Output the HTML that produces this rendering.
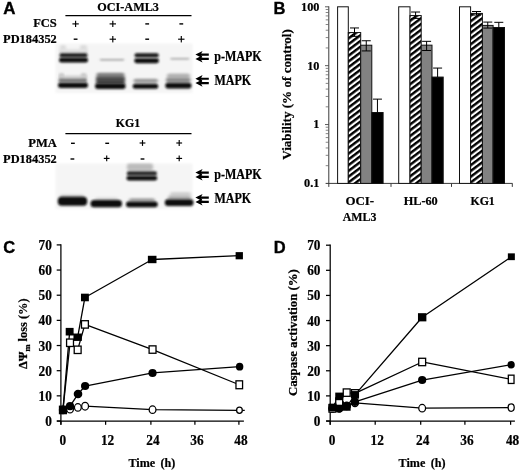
<!DOCTYPE html>
<html><head><meta charset="utf-8"><title>Figure</title>
<style>
html,body{margin:0;padding:0;background:#fff;}
body{width:520px;height:473px;overflow:hidden;font-family:"Liberation Serif",serif;}
svg{display:block;will-change:transform;filter:grayscale(1) blur(0.32px);}
</style></head><body>
<svg width="520" height="473" viewBox="0 0 520 473">
<rect x="0" y="0" width="520" height="473" fill="#fff"/>
<defs>
<filter id="b1" x="-20%" y="-100%" width="140%" height="300%"><feGaussianBlur stdDeviation="1.1 0.8"/></filter>
<filter id="b2" x="-20%" y="-100%" width="140%" height="300%"><feGaussianBlur stdDeviation="1.6 1.3"/></filter>
<filter id="b3" x="-10%" y="-10%" width="120%" height="120%"><feGaussianBlur stdDeviation="1.2"/></filter>
<pattern id="hatch" width="4.6" height="4.6" patternUnits="userSpaceOnUse" patternTransform="rotate(-37)">
<rect x="0" y="0" width="4.6" height="4.6" fill="#fff"/>
<rect x="0" y="0" width="4.6" height="2.45" fill="#000"/>
</pattern>
</defs>
<text transform="translate(3.3,14.3) scale(1.07,1)" font-size="15.8" text-anchor="start" font-family="Liberation Sans" font-weight="bold" stroke="#000" stroke-width="0.35">A</text>
<text transform="translate(3.2,252.9) scale(1.0,1)" font-size="16.5" text-anchor="start" font-family="Liberation Sans" font-weight="bold" stroke="#000" stroke-width="0.35">C</text>
<text transform="translate(273.6,14.2) scale(1.0,1)" font-size="16.5" text-anchor="start" font-family="Liberation Sans" font-weight="bold" stroke="#000" stroke-width="0.35">B</text>
<text transform="translate(273.7,252.6) scale(1.0,1)" font-size="16.5" text-anchor="start" font-family="Liberation Sans" font-weight="bold" stroke="#000" stroke-width="0.35">D</text>
<text transform="translate(128.1,10.8) scale(0.97,1)" font-size="12.6" text-anchor="middle" font-family="Liberation Serif" font-weight="bold" stroke="#000" stroke-width="0.22" >OCI-AML3</text>
<line x1="65.4" y1="15.6" x2="191.5" y2="15.6" stroke="#000" stroke-width="1.1" />
<text transform="translate(56.8,26.9) scale(1.0,1)" font-size="12.5" text-anchor="end" font-family="Liberation Serif" font-weight="bold" stroke="#000" stroke-width="0.22" >FCS</text>
<text transform="translate(56.8,43.1) scale(1.0,1)" font-size="12.4" text-anchor="end" font-family="Liberation Serif" font-weight="bold" stroke="#000" stroke-width="0.22" >PD184352</text>
<line x1="72.39999999999999" y1="23.9" x2="78.8" y2="23.9" stroke="#000" stroke-width="1.15" />
<line x1="75.6" y1="20.7" x2="75.6" y2="27.099999999999998" stroke="#000" stroke-width="1.15" />
<line x1="109.6" y1="23.9" x2="116.0" y2="23.9" stroke="#000" stroke-width="1.15" />
<line x1="112.8" y1="20.7" x2="112.8" y2="27.099999999999998" stroke="#000" stroke-width="1.15" />
<line x1="145.29999999999998" y1="23.9" x2="149.1" y2="23.9" stroke="#000" stroke-width="1.4" />
<line x1="179.4" y1="23.9" x2="183.20000000000002" y2="23.9" stroke="#000" stroke-width="1.4" />
<line x1="73.69999999999999" y1="39.2" x2="77.5" y2="39.2" stroke="#000" stroke-width="1.4" />
<line x1="109.6" y1="39.2" x2="116.0" y2="39.2" stroke="#000" stroke-width="1.15" />
<line x1="112.8" y1="36.0" x2="112.8" y2="42.400000000000006" stroke="#000" stroke-width="1.15" />
<line x1="145.29999999999998" y1="39.2" x2="149.1" y2="39.2" stroke="#000" stroke-width="1.4" />
<line x1="178.10000000000002" y1="39.2" x2="184.5" y2="39.2" stroke="#000" stroke-width="1.15" />
<line x1="181.3" y1="36.0" x2="181.3" y2="42.400000000000006" stroke="#000" stroke-width="1.15" />
<g>
<rect x="55.5" y="43.5" width="137" height="49.5" fill="#f5f5f5" stroke="none" stroke-width="1" filter="url(#b3)"/>
<rect x="60" y="45" width="6" height="9" rx="2" fill="#dcdcdc" filter="url(#b2)"/>
<rect x="80" y="45" width="7" height="9" rx="2" fill="#dcdcdc" filter="url(#b2)"/>
<rect x="60" y="49" width="27" height="5" rx="2" fill="#e2e2e2" filter="url(#b2)"/>
<rect x="59.5" y="53.3" width="28.0" height="4.0" rx="2" fill="#1c1c1c" filter="url(#b1)"/>
<rect x="59" y="57.6" width="29" height="5.0" rx="2.5" fill="#080808" filter="url(#b1)"/>
<rect x="59" y="73" width="5" height="6" rx="2" fill="#c4c4c4" filter="url(#b2)"/>
<rect x="81" y="73" width="5.5" height="6" rx="2" fill="#c4c4c4" filter="url(#b2)"/>
<rect x="59" y="75.5" width="28" height="3.0" rx="2" fill="#d0d0d0" filter="url(#b2)"/>
<rect x="58.5" y="78.6" width="28.5" height="3.4000000000000057" rx="1.5" fill="#757575" filter="url(#b1)"/>
<rect x="58" y="82.6" width="30" height="5.400000000000006" rx="2.7" fill="#0e0e0e" filter="url(#b1)"/>
<rect x="99.5" y="59.0" width="25.0" height="1.6000000000000014" rx="2" fill="#999" filter="url(#b1)"/>
<rect x="96.5" y="72.8" width="28.0" height="6.200000000000003" rx="2" fill="#808080" filter="url(#b2)"/>
<rect x="96" y="77" width="29" height="7" rx="2" fill="#4a4a4a" filter="url(#b2)"/>
<rect x="95" y="83.3" width="30.599999999999994" height="5.700000000000003" rx="2.7" fill="#0e0e0e" filter="url(#b1)"/>
<rect x="134.5" y="53.2" width="24.30000000000001" height="4.0" rx="2" fill="#141414" filter="url(#b1)"/>
<rect x="134.2" y="58.3" width="24.80000000000001" height="4.900000000000006" rx="2.4" fill="#0a0a0a" filter="url(#b1)"/>
<rect x="133.5" y="78.8" width="24.5" height="4.0" rx="2" fill="#9a9a9a" filter="url(#b2)"/>
<rect x="132.7" y="83.8" width="25.5" height="5.0" rx="2.5" fill="#0c0c0c" filter="url(#b1)"/>
<rect x="170" y="58.0" width="19.599999999999994" height="1.6000000000000014" rx="2" fill="#a0a0a0" filter="url(#b1)"/>
<rect x="167" y="73.5" width="23" height="4.5" rx="2" fill="#b4b4b4" filter="url(#b2)"/>
<rect x="166" y="77.5" width="24.5" height="5.0" rx="2" fill="#8c8c8c" filter="url(#b2)"/>
<rect x="165.3" y="82.8" width="26.19999999999999" height="5.700000000000003" rx="2.7" fill="#0c0c0c" filter="url(#b1)"/>
</g>
<path d="M195.4,54.6 L202.6,50.9 L201.20000000000002,53.550000000000004 L208.8,53.550000000000004 L208.8,55.65 L201.20000000000002,55.65 L202.6,58.300000000000004 Z" fill="#000"/>
<path d="M195.4,58.9 L202.6,55.199999999999996 L201.20000000000002,57.85 L208.8,57.85 L208.8,59.949999999999996 L201.20000000000002,59.949999999999996 L202.6,62.6 Z" fill="#000"/>
<path d="M195.4,78.8 L202.6,75.1 L201.20000000000002,77.75 L208.8,77.75 L208.8,79.85 L201.20000000000002,79.85 L202.6,82.5 Z" fill="#000"/>
<path d="M195.4,83.1 L202.6,79.39999999999999 L201.20000000000002,82.05 L208.8,82.05 L208.8,84.14999999999999 L201.20000000000002,84.14999999999999 L202.6,86.8 Z" fill="#000"/>
<text transform="translate(214.2,60.5) scale(0.885,1)" font-size="13.6" text-anchor="start" font-family="Liberation Serif" font-weight="bold" stroke="#000" stroke-width="0.22" >p-MAPK</text>
<text transform="translate(214.4,84.7) scale(0.885,1)" font-size="13.6" text-anchor="start" font-family="Liberation Serif" font-weight="bold" stroke="#000" stroke-width="0.22" >MAPK</text>
<text transform="translate(128,126.6) scale(0.94,1)" font-size="12.6" text-anchor="middle" font-family="Liberation Serif" font-weight="bold" stroke="#000" stroke-width="0.22" >KG1</text>
<line x1="65.4" y1="133.6" x2="191.5" y2="133.6" stroke="#000" stroke-width="1.1" />
<text transform="translate(56.8,146.8) scale(1.0,1)" font-size="12.5" text-anchor="end" font-family="Liberation Serif" font-weight="bold" stroke="#000" stroke-width="0.22" >PMA</text>
<text transform="translate(56.8,163.1) scale(1.0,1)" font-size="12.4" text-anchor="end" font-family="Liberation Serif" font-weight="bold" stroke="#000" stroke-width="0.22" >PD184352</text>
<line x1="71.0" y1="143.3" x2="74.80000000000001" y2="143.3" stroke="#000" stroke-width="1.4" />
<line x1="105.3" y1="143.3" x2="109.10000000000001" y2="143.3" stroke="#000" stroke-width="1.4" />
<line x1="139.6" y1="143.0" x2="145.4" y2="143.0" stroke="#000" stroke-width="1.15" />
<line x1="142.5" y1="140.1" x2="142.5" y2="145.9" stroke="#000" stroke-width="1.15" />
<line x1="176.29999999999998" y1="143.0" x2="182.1" y2="143.0" stroke="#000" stroke-width="1.15" />
<line x1="179.2" y1="140.1" x2="179.2" y2="145.9" stroke="#000" stroke-width="1.15" />
<line x1="70.5" y1="159.0" x2="74.30000000000001" y2="159.0" stroke="#000" stroke-width="1.4" />
<line x1="103.8" y1="158.4" x2="109.60000000000001" y2="158.4" stroke="#000" stroke-width="1.15" />
<line x1="106.7" y1="155.5" x2="106.7" y2="161.3" stroke="#000" stroke-width="1.15" />
<line x1="140.6" y1="159.0" x2="144.4" y2="159.0" stroke="#000" stroke-width="1.4" />
<line x1="176.29999999999998" y1="158.4" x2="182.1" y2="158.4" stroke="#000" stroke-width="1.15" />
<line x1="179.2" y1="155.5" x2="179.2" y2="161.3" stroke="#000" stroke-width="1.15" />
<g>
<rect x="55.5" y="163.5" width="137" height="45.5" fill="#f5f5f5" stroke="none" stroke-width="1" filter="url(#b3)"/>
<rect x="60" y="194.5" width="24" height="4.0" rx="2" fill="#cfcfcf" filter="url(#b2)"/>
<rect x="57.8" y="196.8" width="29.400000000000006" height="9.0" rx="4" fill="#0c0c0c" filter="url(#b1)"/>
<rect x="95" y="197.5" width="23" height="3.5" rx="2" fill="#d4d4d4" filter="url(#b2)"/>
<rect x="90.5" y="200" width="31.5" height="7.300000000000011" rx="3.5" fill="#0c0c0c" filter="url(#b1)"/>
<rect x="127" y="163.5" width="26" height="7.0" rx="2" fill="#bcbcbc" filter="url(#b2)"/>
<rect x="126.8" y="171.2" width="30.200000000000003" height="4.400000000000006" rx="2.2" fill="#262626" filter="url(#b1)"/>
<rect x="126.5" y="175.8" width="30.69999999999999" height="4.799999999999983" rx="2.4" fill="#0c0c0c" filter="url(#b1)"/>
<rect x="129" y="198.2" width="26" height="3.0" rx="2" fill="#a0a0a0" filter="url(#b2)"/>
<rect x="126" y="201.6" width="31.69999999999999" height="5.700000000000017" rx="2.8" fill="#0c0c0c" filter="url(#b1)"/>
<rect x="170" y="192" width="21" height="4" rx="2" fill="#d2d2d2" filter="url(#b2)"/>
<rect x="168" y="195.5" width="23" height="4.0" rx="2" fill="#b0b0b0" filter="url(#b2)"/>
<rect x="164.8" y="199.2" width="28.69999999999999" height="6.700000000000017" rx="3.2" fill="#0c0c0c" filter="url(#b1)"/>
</g>
<path d="M195.4,172.6 L202.6,168.9 L201.20000000000002,171.54999999999998 L208.8,171.54999999999998 L208.8,173.65 L201.20000000000002,173.65 L202.6,176.29999999999998 Z" fill="#000"/>
<path d="M195.4,176.9 L202.6,173.20000000000002 L201.20000000000002,175.85 L208.8,175.85 L208.8,177.95000000000002 L201.20000000000002,177.95000000000002 L202.6,180.6 Z" fill="#000"/>
<path d="M195.4,197.6 L202.6,193.9 L201.20000000000002,196.54999999999998 L208.8,196.54999999999998 L208.8,198.65 L201.20000000000002,198.65 L202.6,201.29999999999998 Z" fill="#000"/>
<path d="M195.4,201.9 L202.6,198.20000000000002 L201.20000000000002,200.85 L208.8,200.85 L208.8,202.95000000000002 L201.20000000000002,202.95000000000002 L202.6,205.6 Z" fill="#000"/>
<text transform="translate(214.2,178.6) scale(0.885,1)" font-size="13.6" text-anchor="start" font-family="Liberation Serif" font-weight="bold" stroke="#000" stroke-width="0.22" >p-MAPK</text>
<text transform="translate(214.4,203.3) scale(0.885,1)" font-size="13.6" text-anchor="start" font-family="Liberation Serif" font-weight="bold" stroke="#000" stroke-width="0.22" >MAPK</text>
<line x1="328.8" y1="6.3" x2="328.8" y2="186.9" stroke="#3a3a3a" stroke-width="1.0" />
<line x1="325.6" y1="183.4" x2="512.5" y2="183.4" stroke="#3a3a3a" stroke-width="1.0" />
<line x1="325.7" y1="165.6793675885803" x2="328.8" y2="165.6793675885803" stroke="#666" stroke-width="0.8" />
<line x1="325.7" y1="155.3134621388359" x2="328.8" y2="155.3134621388359" stroke="#666" stroke-width="0.8" />
<line x1="325.7" y1="147.95873517716063" x2="328.8" y2="147.95873517716063" stroke="#666" stroke-width="0.8" />
<line x1="325.7" y1="142.25396574475303" x2="328.8" y2="142.25396574475303" stroke="#666" stroke-width="0.8" />
<line x1="325.7" y1="137.5928297274162" x2="328.8" y2="137.5928297274162" stroke="#666" stroke-width="0.8" />
<line x1="325.7" y1="133.6518953778274" x2="328.8" y2="133.6518953778274" stroke="#666" stroke-width="0.8" />
<line x1="325.7" y1="130.2381027657409" x2="328.8" y2="130.2381027657409" stroke="#666" stroke-width="0.8" />
<line x1="325.7" y1="127.22692427767174" x2="328.8" y2="127.22692427767174" stroke="#666" stroke-width="0.8" />
<line x1="325.0" y1="124.53333333333333" x2="328.8" y2="124.53333333333333" stroke="#4a4a4a" stroke-width="0.9" />
<line x1="325.7" y1="106.81270092191363" x2="328.8" y2="106.81270092191363" stroke="#666" stroke-width="0.8" />
<line x1="325.7" y1="96.4467954721692" x2="328.8" y2="96.4467954721692" stroke="#666" stroke-width="0.8" />
<line x1="325.7" y1="89.09206851049395" x2="328.8" y2="89.09206851049395" stroke="#666" stroke-width="0.8" />
<line x1="325.7" y1="83.38729907808636" x2="328.8" y2="83.38729907808636" stroke="#666" stroke-width="0.8" />
<line x1="325.7" y1="78.72616306074951" x2="328.8" y2="78.72616306074951" stroke="#666" stroke-width="0.8" />
<line x1="325.7" y1="74.78522871116074" x2="328.8" y2="74.78522871116074" stroke="#666" stroke-width="0.8" />
<line x1="325.7" y1="71.37143609907426" x2="328.8" y2="71.37143609907426" stroke="#666" stroke-width="0.8" />
<line x1="325.7" y1="68.36025761100508" x2="328.8" y2="68.36025761100508" stroke="#666" stroke-width="0.8" />
<line x1="325.0" y1="65.66666666666667" x2="328.8" y2="65.66666666666667" stroke="#4a4a4a" stroke-width="0.9" />
<line x1="325.7" y1="47.94603425524697" x2="328.8" y2="47.94603425524697" stroke="#666" stroke-width="0.8" />
<line x1="325.7" y1="37.58012880550254" x2="328.8" y2="37.58012880550254" stroke="#666" stroke-width="0.8" />
<line x1="325.7" y1="30.225401843827274" x2="328.8" y2="30.225401843827274" stroke="#666" stroke-width="0.8" />
<line x1="325.7" y1="24.520632411419697" x2="328.8" y2="24.520632411419697" stroke="#666" stroke-width="0.8" />
<line x1="325.7" y1="19.859496394082846" x2="328.8" y2="19.859496394082846" stroke="#666" stroke-width="0.8" />
<line x1="325.7" y1="15.918562044494077" x2="328.8" y2="15.918562044494077" stroke="#666" stroke-width="0.8" />
<line x1="325.7" y1="12.50476943240759" x2="328.8" y2="12.50476943240759" stroke="#666" stroke-width="0.8" />
<line x1="325.7" y1="9.493590944338415" x2="328.8" y2="9.493590944338415" stroke="#666" stroke-width="0.8" />
<line x1="325.0" y1="6.8" x2="328.8" y2="6.8" stroke="#4a4a4a" stroke-width="0.9" />
<text transform="translate(319.4,10.65) scale(0.93,1)" font-size="13.2" text-anchor="end" font-family="Liberation Serif" font-weight="bold" stroke="#000" stroke-width="0.22" >100</text>
<text transform="translate(319.4,69.51666666666667) scale(0.93,1)" font-size="13.2" text-anchor="end" font-family="Liberation Serif" font-weight="bold" stroke="#000" stroke-width="0.22" >10</text>
<text transform="translate(319.4,128.38333333333333) scale(0.93,1)" font-size="13.2" text-anchor="end" font-family="Liberation Serif" font-weight="bold" stroke="#000" stroke-width="0.22" >1</text>
<text transform="translate(319.4,187.25) scale(0.93,1)" font-size="13.2" text-anchor="end" font-family="Liberation Serif" font-weight="bold" stroke="#000" stroke-width="0.22" >0.1</text>
<line x1="391" y1="183.4" x2="391" y2="186.9" stroke="#3a3a3a" stroke-width="1" />
<line x1="451.5" y1="183.4" x2="451.5" y2="186.9" stroke="#3a3a3a" stroke-width="1" />
<line x1="512.3" y1="183.4" x2="512.3" y2="186.9" stroke="#3a3a3a" stroke-width="1" />
<rect x="337.6" y="6.8" width="10.699999999999989" height="176.6" fill="#fff" stroke="#111" stroke-width="1" />
<rect x="348.3" y="32.566360045662194" width="12.399999999999977" height="150.8336399543378" fill="url(#hatch)" stroke="#111" stroke-width="1" />
<rect x="360.7" y="45.220506431675524" width="11.100000000000023" height="138.1794935683245" fill="#828282" stroke="#111" stroke-width="1" />
<rect x="371.8" y="112.51747035432122" width="11.300000000000011" height="70.88252964567879" fill="#000" stroke="#111" stroke-width="1" />
<line x1="354.5" y1="27.963659410341165" x2="354.5" y2="36.332785400252185" stroke="#000" stroke-width="1" />
<line x1="350.0" y1="27.963659410341165" x2="359.0" y2="27.963659410341165" stroke="#000" stroke-width="1" />
<line x1="350.0" y1="36.332785400252185" x2="359.0" y2="36.332785400252185" stroke="#000" stroke-width="1" />
<line x1="366.25" y1="40.751592887586575" x2="366.25" y2="50.9252758640831" stroke="#000" stroke-width="1" />
<line x1="361.75" y1="40.751592887586575" x2="370.75" y2="40.751592887586575" stroke="#000" stroke-width="1" />
<line x1="361.75" y1="50.9252758640831" x2="370.75" y2="50.9252758640831" stroke="#000" stroke-width="1" />
<line x1="377.45000000000005" y1="99.14038641650761" x2="377.45000000000005" y2="112.51747035432122" stroke="#000" stroke-width="1" />
<line x1="372.95000000000005" y1="99.14038641650761" x2="381.95000000000005" y2="99.14038641650761" stroke="#000" stroke-width="1" />
<rect x="398.7" y="6.8" width="11.300000000000011" height="176.6" fill="#fff" stroke="#111" stroke-width="1" />
<rect x="410" y="15.55592520540377" width="11.199999999999989" height="167.84407479459622" fill="url(#hatch)" stroke="#111" stroke-width="1" />
<rect x="421.2" y="45.16312039523161" width="10.800000000000011" height="138.2368796047684" fill="#828282" stroke="#111" stroke-width="1" />
<rect x="432" y="77.07620553148185" width="11.199999999999989" height="106.32379446851816" fill="#000" stroke="#111" stroke-width="1" />
<line x1="415.6" y1="12.029855432173374" x2="415.6" y2="18.410053371145708" stroke="#000" stroke-width="1" />
<line x1="411.1" y1="12.029855432173374" x2="420.1" y2="12.029855432173374" stroke="#000" stroke-width="1" />
<line x1="411.1" y1="18.410053371145708" x2="420.1" y2="18.410053371145708" stroke="#000" stroke-width="1" />
<line x1="426.6" y1="41.337087221083635" x2="426.6" y2="50.497987892700664" stroke="#000" stroke-width="1" />
<line x1="422.1" y1="41.337087221083635" x2="431.1" y2="41.337087221083635" stroke="#000" stroke-width="1" />
<line x1="422.1" y1="50.497987892700664" x2="431.1" y2="50.497987892700664" stroke="#000" stroke-width="1" />
<line x1="437.6" y1="68.07776337203164" x2="437.6" y2="77.07620553148185" stroke="#000" stroke-width="1" />
<line x1="433.1" y1="68.07776337203164" x2="442.1" y2="68.07776337203164" stroke="#000" stroke-width="1" />
<rect x="459.5" y="6.8" width="11.100000000000023" height="176.6" fill="#fff" stroke="#111" stroke-width="1" />
<rect x="470.6" y="13.41559492023633" width="11.799999999999955" height="169.9844050797637" fill="url(#hatch)" stroke="#111" stroke-width="1" />
<rect x="482.4" y="25.40497890309432" width="10.700000000000045" height="157.99502109690567" fill="#828282" stroke="#111" stroke-width="1" />
<rect x="493.1" y="27.49987402025583" width="11.399999999999977" height="155.9001259797442" fill="#000" stroke="#111" stroke-width="1" />
<line x1="476.5" y1="11.502073525686047" x2="476.5" y2="15.021436013187497" stroke="#000" stroke-width="1" />
<line x1="472.0" y1="11.502073525686047" x2="481.0" y2="11.502073525686047" stroke="#000" stroke-width="1" />
<line x1="472.0" y1="15.021436013187497" x2="481.0" y2="15.021436013187497" stroke="#000" stroke-width="1" />
<line x1="487.75" y1="22.083983011772176" x2="487.75" y2="28.080932407270343" stroke="#000" stroke-width="1" />
<line x1="483.25" y1="22.083983011772176" x2="492.25" y2="22.083983011772176" stroke="#000" stroke-width="1" />
<line x1="483.25" y1="28.080932407270343" x2="492.25" y2="28.080932407270343" stroke="#000" stroke-width="1" />
<line x1="498.8" y1="22.31745923264832" x2="498.8" y2="27.49987402025583" stroke="#000" stroke-width="1" />
<line x1="494.3" y1="22.31745923264832" x2="503.3" y2="22.31745923264832" stroke="#000" stroke-width="1" />
<text transform="translate(359.8,205.0) scale(0.98,1)" font-size="13.2" text-anchor="middle" font-family="Liberation Serif" font-weight="bold" stroke="#000" stroke-width="0.22" >OCI-</text>
<text transform="translate(359.6,221.1) scale(0.9,1)" font-size="13.2" text-anchor="middle" font-family="Liberation Serif" font-weight="bold" stroke="#000" stroke-width="0.22" >AML3</text>
<text transform="translate(420.7,205.0) scale(0.93,1)" font-size="13.2" text-anchor="middle" font-family="Liberation Serif" font-weight="bold" stroke="#000" stroke-width="0.22" >HL-60</text>
<text transform="translate(482.6,205.0) scale(0.9,1)" font-size="13.2" text-anchor="middle" font-family="Liberation Serif" font-weight="bold" stroke="#000" stroke-width="0.22" >KG1</text>
<text transform="translate(291,94.5) rotate(-90)" font-size="13.1" text-anchor="middle" font-family="Liberation Serif" font-weight="bold" stroke="#000" stroke-width="0.22">Viability (% of control)</text>
<line x1="60.9" y1="244.3" x2="60.9" y2="424.8" stroke="#000" stroke-width="1.25" />
<line x1="56.9" y1="421" x2="243.9" y2="421" stroke="#000" stroke-width="1.25" />
<line x1="56.699999999999996" y1="421.0" x2="60.9" y2="421.0" stroke="#000" stroke-width="1.25" />
<text transform="translate(51.9,426.0) scale(0.98,1)" font-size="13.6" text-anchor="end" font-family="Liberation Serif" font-weight="bold" stroke="#000" stroke-width="0.22" >0</text>
<line x1="56.699999999999996" y1="395.84285714285716" x2="60.9" y2="395.84285714285716" stroke="#000" stroke-width="1.25" />
<text transform="translate(51.9,400.84285714285716) scale(0.98,1)" font-size="13.6" text-anchor="end" font-family="Liberation Serif" font-weight="bold" stroke="#000" stroke-width="0.22" >10</text>
<line x1="56.699999999999996" y1="370.6857142857143" x2="60.9" y2="370.6857142857143" stroke="#000" stroke-width="1.25" />
<text transform="translate(51.9,375.6857142857143) scale(0.98,1)" font-size="13.6" text-anchor="end" font-family="Liberation Serif" font-weight="bold" stroke="#000" stroke-width="0.22" >20</text>
<line x1="56.699999999999996" y1="345.52857142857147" x2="60.9" y2="345.52857142857147" stroke="#000" stroke-width="1.25" />
<text transform="translate(51.9,350.52857142857147) scale(0.98,1)" font-size="13.6" text-anchor="end" font-family="Liberation Serif" font-weight="bold" stroke="#000" stroke-width="0.22" >30</text>
<line x1="56.699999999999996" y1="320.37142857142857" x2="60.9" y2="320.37142857142857" stroke="#000" stroke-width="1.25" />
<text transform="translate(51.9,325.37142857142857) scale(0.98,1)" font-size="13.6" text-anchor="end" font-family="Liberation Serif" font-weight="bold" stroke="#000" stroke-width="0.22" >40</text>
<line x1="56.699999999999996" y1="295.2142857142857" x2="60.9" y2="295.2142857142857" stroke="#000" stroke-width="1.25" />
<text transform="translate(51.9,300.2142857142857) scale(0.98,1)" font-size="13.6" text-anchor="end" font-family="Liberation Serif" font-weight="bold" stroke="#000" stroke-width="0.22" >50</text>
<line x1="56.699999999999996" y1="270.0571428571429" x2="60.9" y2="270.0571428571429" stroke="#000" stroke-width="1.25" />
<text transform="translate(51.9,275.0571428571429) scale(0.98,1)" font-size="13.6" text-anchor="end" font-family="Liberation Serif" font-weight="bold" stroke="#000" stroke-width="0.22" >60</text>
<line x1="56.699999999999996" y1="244.9" x2="60.9" y2="244.9" stroke="#000" stroke-width="1.25" />
<text transform="translate(51.9,249.9) scale(0.98,1)" font-size="13.6" text-anchor="end" font-family="Liberation Serif" font-weight="bold" stroke="#000" stroke-width="0.22" >70</text>
<line x1="60.9" y1="421" x2="60.9" y2="424.8" stroke="#000" stroke-width="1.25" />
<text transform="translate(62.9,444.9) scale(0.98,1)" font-size="13.6" text-anchor="middle" font-family="Liberation Serif" font-weight="bold" stroke="#000" stroke-width="0.22" >0</text>
<line x1="105.6" y1="421" x2="105.6" y2="424.8" stroke="#000" stroke-width="1.25" />
<text transform="translate(107.6,444.9) scale(0.98,1)" font-size="13.6" text-anchor="middle" font-family="Liberation Serif" font-weight="bold" stroke="#000" stroke-width="0.22" >12</text>
<line x1="150.9" y1="421" x2="150.9" y2="424.8" stroke="#000" stroke-width="1.25" />
<text transform="translate(152.9,444.9) scale(0.98,1)" font-size="13.6" text-anchor="middle" font-family="Liberation Serif" font-weight="bold" stroke="#000" stroke-width="0.22" >24</text>
<line x1="194.9" y1="421" x2="194.9" y2="424.8" stroke="#000" stroke-width="1.25" />
<text transform="translate(196.9,444.9) scale(0.98,1)" font-size="13.6" text-anchor="middle" font-family="Liberation Serif" font-weight="bold" stroke="#000" stroke-width="0.22" >36</text>
<line x1="238.9" y1="421" x2="238.9" y2="424.8" stroke="#000" stroke-width="1.25" />
<text transform="translate(240.9,444.9) scale(0.98,1)" font-size="13.6" text-anchor="middle" font-family="Liberation Serif" font-weight="bold" stroke="#000" stroke-width="0.22" >48</text>
<text transform="translate(151.9,467) scale(0.92,1)" font-size="13.2" text-anchor="middle" font-family="Liberation Serif" font-weight="bold" stroke="#000" stroke-width="0.22" word-spacing="2.5">Time (h)</text>
<text transform="translate(26.9,333.7) rotate(-90)" font-size="12.4" text-anchor="middle" font-family="Liberation Serif" font-weight="bold" stroke="#000" stroke-width="0.22"><tspan stroke="#000" stroke-width="0.3">ΔΨ</tspan><tspan font-size="8.5" dy="2.6">m</tspan><tspan dy="-2.6"> loss (%)</tspan></text>
<polyline points="62.95,409.93 70.03,409.18 77.85,407.42 85.11,406.16 152.55,409.68 239.45,410.31 244.77,410.43" fill="none" stroke="#000" stroke-width="1.3" stroke-linejoin="round"/>
<polyline points="62.95,409.93 70.03,406.16 78.03,394.08 85.11,386.03 152.55,372.95 239.63,366.66" fill="none" stroke="#000" stroke-width="1.3" stroke-linejoin="round"/>
<polyline points="62.95,409.93 70.03,342.76 77.66,349.81 84.93,324.40 152.55,349.55 239.27,384.77" fill="none" stroke="#000" stroke-width="1.3" stroke-linejoin="round"/>
<polyline points="62.95,409.93 69.65,331.69 77.66,337.23 84.93,297.48 152.18,259.49 239.27,255.72" fill="none" stroke="#000" stroke-width="1.3" stroke-linejoin="round"/>
<ellipse cx="62.95" cy="409.93" rx="3.4" ry="3.7" fill="#fff" stroke="#000" stroke-width="1.25"/>
<ellipse cx="70.03" cy="409.18" rx="3.4" ry="3.7" fill="#fff" stroke="#000" stroke-width="1.25"/>
<ellipse cx="77.85" cy="407.42" rx="3.4" ry="3.7" fill="#fff" stroke="#000" stroke-width="1.25"/>
<ellipse cx="85.11" cy="406.16" rx="3.4" ry="3.9" fill="#fff" stroke="#000" stroke-width="1.25"/>
<ellipse cx="152.55" cy="409.68" rx="3.4" ry="3.7" fill="#fff" stroke="#000" stroke-width="1.25"/>
<ellipse cx="239.45" cy="410.31" rx="2.85" ry="3.1" fill="#fff" stroke="#000" stroke-width="1.25"/>
<ellipse cx="62.95" cy="409.93" rx="4.1" ry="4.05" fill="#000"/>
<ellipse cx="70.03" cy="406.16" rx="4.1" ry="4.05" fill="#000"/>
<ellipse cx="78.03" cy="394.08" rx="4.3" ry="4.25" fill="#000"/>
<ellipse cx="85.11" cy="386.03" rx="4.1" ry="4.05" fill="#000"/>
<ellipse cx="152.55" cy="372.95" rx="4.1" ry="4.05" fill="#000"/>
<ellipse cx="239.63" cy="366.66" rx="3.7" ry="3.95" fill="#000"/>
<rect x="59.5" y="406.23" width="6.9" height="7.4" fill="#fff" stroke="#000" stroke-width="1.3" />
<rect x="66.58" y="339.06" width="6.9" height="7.4" fill="#fff" stroke="#000" stroke-width="1.3" />
<rect x="74.21" y="346.11" width="6.9" height="7.4" fill="#fff" stroke="#000" stroke-width="1.3" />
<rect x="81.48" y="320.7" width="6.9" height="7.4" fill="#fff" stroke="#000" stroke-width="1.3" />
<rect x="149.1" y="345.85" width="6.9" height="7.4" fill="#fff" stroke="#000" stroke-width="1.3" />
<rect x="235.97" y="380.82" width="6.6" height="7.9" fill="#fff" stroke="#000" stroke-width="1.3" />
<rect x="59.0" y="406.13" width="7.9" height="7.6" fill="#000" stroke="none" stroke-width="1" />
<rect x="65.7" y="327.89" width="7.9" height="7.6" fill="#000" stroke="none" stroke-width="1" />
<rect x="73.46" y="333.53" width="8.4" height="7.4" fill="#000" stroke="none" stroke-width="1" />
<rect x="80.98" y="293.68" width="7.9" height="7.6" fill="#000" stroke="none" stroke-width="1" />
<rect x="147.88" y="255.79" width="8.6" height="7.4" fill="#000" stroke="none" stroke-width="1" />
<rect x="235.62" y="252.12" width="7.3" height="7.2" fill="#000" stroke="none" stroke-width="1" />
<line x1="330.2" y1="244.6" x2="330.2" y2="424.8" stroke="#000" stroke-width="1.25" />
<line x1="326.2" y1="421" x2="514.9" y2="421" stroke="#000" stroke-width="1.25" />
<line x1="326.0" y1="421.0" x2="330.2" y2="421.0" stroke="#000" stroke-width="1.25" />
<text transform="translate(320.5,426.0) scale(0.98,1)" font-size="13.6" text-anchor="end" font-family="Liberation Serif" font-weight="bold" stroke="#000" stroke-width="0.22" >0</text>
<line x1="326.0" y1="395.8857142857143" x2="330.2" y2="395.8857142857143" stroke="#000" stroke-width="1.25" />
<text transform="translate(320.5,400.8857142857143) scale(0.98,1)" font-size="13.6" text-anchor="end" font-family="Liberation Serif" font-weight="bold" stroke="#000" stroke-width="0.22" >10</text>
<line x1="326.0" y1="370.7714285714286" x2="330.2" y2="370.7714285714286" stroke="#000" stroke-width="1.25" />
<text transform="translate(320.5,375.7714285714286) scale(0.98,1)" font-size="13.6" text-anchor="end" font-family="Liberation Serif" font-weight="bold" stroke="#000" stroke-width="0.22" >20</text>
<line x1="326.0" y1="345.65714285714284" x2="330.2" y2="345.65714285714284" stroke="#000" stroke-width="1.25" />
<text transform="translate(320.5,350.65714285714284) scale(0.98,1)" font-size="13.6" text-anchor="end" font-family="Liberation Serif" font-weight="bold" stroke="#000" stroke-width="0.22" >30</text>
<line x1="326.0" y1="320.54285714285714" x2="330.2" y2="320.54285714285714" stroke="#000" stroke-width="1.25" />
<text transform="translate(320.5,325.54285714285714) scale(0.98,1)" font-size="13.6" text-anchor="end" font-family="Liberation Serif" font-weight="bold" stroke="#000" stroke-width="0.22" >40</text>
<line x1="326.0" y1="295.42857142857144" x2="330.2" y2="295.42857142857144" stroke="#000" stroke-width="1.25" />
<text transform="translate(320.5,300.42857142857144) scale(0.98,1)" font-size="13.6" text-anchor="end" font-family="Liberation Serif" font-weight="bold" stroke="#000" stroke-width="0.22" >50</text>
<line x1="326.0" y1="270.3142857142857" x2="330.2" y2="270.3142857142857" stroke="#000" stroke-width="1.25" />
<text transform="translate(320.5,275.3142857142857) scale(0.98,1)" font-size="13.6" text-anchor="end" font-family="Liberation Serif" font-weight="bold" stroke="#000" stroke-width="0.22" >60</text>
<line x1="326.0" y1="245.2" x2="330.2" y2="245.2" stroke="#000" stroke-width="1.25" />
<text transform="translate(320.5,250.2) scale(0.98,1)" font-size="13.6" text-anchor="end" font-family="Liberation Serif" font-weight="bold" stroke="#000" stroke-width="0.22" >70</text>
<line x1="330.2" y1="421" x2="330.2" y2="424.8" stroke="#000" stroke-width="1.25" />
<text transform="translate(332.2,444.9) scale(0.98,1)" font-size="13.6" text-anchor="middle" font-family="Liberation Serif" font-weight="bold" stroke="#000" stroke-width="0.22" >0</text>
<line x1="375.2" y1="421" x2="375.2" y2="424.8" stroke="#000" stroke-width="1.25" />
<text transform="translate(377.2,444.9) scale(0.98,1)" font-size="13.6" text-anchor="middle" font-family="Liberation Serif" font-weight="bold" stroke="#000" stroke-width="0.22" >12</text>
<line x1="420.7" y1="421" x2="420.7" y2="424.8" stroke="#000" stroke-width="1.25" />
<text transform="translate(422.7,444.9) scale(0.98,1)" font-size="13.6" text-anchor="middle" font-family="Liberation Serif" font-weight="bold" stroke="#000" stroke-width="0.22" >24</text>
<line x1="464.9" y1="421" x2="464.9" y2="424.8" stroke="#000" stroke-width="1.25" />
<text transform="translate(466.9,444.9) scale(0.98,1)" font-size="13.6" text-anchor="middle" font-family="Liberation Serif" font-weight="bold" stroke="#000" stroke-width="0.22" >36</text>
<line x1="510.6" y1="421" x2="510.6" y2="424.8" stroke="#000" stroke-width="1.25" />
<text transform="translate(512.6,444.9) scale(0.98,1)" font-size="13.6" text-anchor="middle" font-family="Liberation Serif" font-weight="bold" stroke="#000" stroke-width="0.22" >48</text>
<text transform="translate(422,467) scale(0.92,1)" font-size="13.2" text-anchor="middle" font-family="Liberation Serif" font-weight="bold" stroke="#000" stroke-width="0.22" word-spacing="2.5">Time (h)</text>
<text transform="translate(297.2,332.6) rotate(-90)" font-size="12.85" text-anchor="middle" font-family="Liberation Serif" font-weight="bold" stroke="#000" stroke-width="0.22">Caspase activation (%)</text>
<polyline points="332.45,408.44 339.20,408.44 346.70,405.93 354.95,402.92 422.17,408.19 511.17,407.56" fill="none" stroke="#000" stroke-width="1.3" stroke-linejoin="round"/>
<polyline points="332.45,408.44 339.20,408.44 346.70,405.93 354.95,401.91 422.17,380.06 511.17,364.74" fill="none" stroke="#000" stroke-width="1.3" stroke-linejoin="round"/>
<polyline points="332.45,408.44 339.20,401.66 346.70,392.62 354.95,393.37 422.17,361.98 511.17,379.31" fill="none" stroke="#000" stroke-width="1.3" stroke-linejoin="round"/>
<polyline points="332.64,407.44 339.20,396.39 346.70,406.94 354.95,394.88 422.17,317.28 511.36,256.75" fill="none" stroke="#000" stroke-width="1.3" stroke-linejoin="round"/>
<ellipse cx="332.45" cy="408.44" rx="3.4" ry="3.7" fill="#fff" stroke="#000" stroke-width="1.25"/>
<ellipse cx="339.20" cy="408.44" rx="3.4" ry="3.7" fill="#fff" stroke="#000" stroke-width="1.25"/>
<ellipse cx="346.70" cy="405.93" rx="3.4" ry="3.7" fill="#fff" stroke="#000" stroke-width="1.25"/>
<ellipse cx="354.95" cy="402.92" rx="3.4" ry="3.7" fill="#fff" stroke="#000" stroke-width="1.25"/>
<ellipse cx="422.17" cy="408.19" rx="3.4" ry="3.7" fill="#fff" stroke="#000" stroke-width="1.25"/>
<ellipse cx="511.17" cy="407.56" rx="3.05" ry="3.75" fill="#fff" stroke="#000" stroke-width="1.25"/>
<ellipse cx="332.45" cy="408.44" rx="4.1" ry="4.05" fill="#000"/>
<ellipse cx="339.20" cy="408.44" rx="4.1" ry="4.05" fill="#000"/>
<ellipse cx="346.70" cy="405.93" rx="4.1" ry="4.05" fill="#000"/>
<ellipse cx="354.95" cy="401.91" rx="4.1" ry="4.05" fill="#000"/>
<ellipse cx="422.17" cy="380.06" rx="4.1" ry="4.05" fill="#000"/>
<ellipse cx="511.17" cy="364.74" rx="3.6" ry="3.8" fill="#000"/>
<rect x="329.0" y="404.74" width="6.9" height="7.4" fill="#fff" stroke="#000" stroke-width="1.3" />
<rect x="335.75" y="397.96" width="6.9" height="7.4" fill="#fff" stroke="#000" stroke-width="1.3" />
<rect x="343.25" y="388.92" width="6.9" height="7.4" fill="#fff" stroke="#000" stroke-width="1.3" />
<rect x="351.5" y="389.67" width="6.9" height="7.4" fill="#fff" stroke="#000" stroke-width="1.3" />
<rect x="418.72" y="358.28" width="6.9" height="7.4" fill="#fff" stroke="#000" stroke-width="1.3" />
<rect x="508.32" y="375.16" width="5.7" height="8.3" fill="#fff" stroke="#000" stroke-width="1.3" />
<rect x="328.69" y="403.64" width="7.9" height="7.6" fill="#000" stroke="none" stroke-width="1" />
<rect x="335.25" y="392.59" width="7.9" height="7.6" fill="#000" stroke="none" stroke-width="1" />
<rect x="342.75" y="403.14" width="7.9" height="7.6" fill="#000" stroke="none" stroke-width="1" />
<rect x="351.0" y="391.08" width="7.9" height="7.6" fill="#000" stroke="none" stroke-width="1" />
<rect x="417.97" y="313.18" width="8.4" height="8.2" fill="#000" stroke="none" stroke-width="1" />
<rect x="507.86" y="253.35" width="7.0" height="6.8" fill="#000" stroke="none" stroke-width="1" />
</svg>
</body></html>
